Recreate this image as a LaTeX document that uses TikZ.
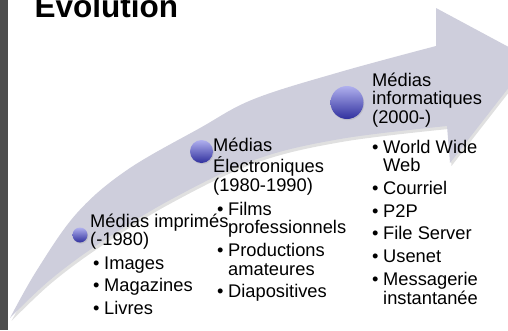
\documentclass[tikz,border=0pt]{standalone}
\usepackage{fontspec}
\setmainfont{Liberation Sans}
\usetikzlibrary{shadows}
\definecolor{barcol}{RGB}{77,77,77}
\definecolor{arrowcol}{RGB}{206,206,220}
\definecolor{balltop}{RGB}{176,176,238}
\definecolor{ballbot}{RGB}{48,48,158}
\newcommand{\bul}{\makebox[11pt][l]{•}}
\newcommand{\cont}{\hspace*{11pt}}
\tikzset{
  lbl/.style={anchor=base west, inner sep=0pt, font=\fontsize{18.3}{18.5}\selectfont},
  ballnode/.style={circle, inner sep=0pt, minimum size=#1, top color=balltop, bottom color=ballbot,
     drop shadow={opacity=0.2, shadow xshift=0.8pt, shadow yshift=-1.2pt}},
}
\begin{document}
\begin{tikzpicture}[x=1pt,y=-1pt]
\useasboundingbox (0,0) rectangle (508,330);
\clip (0,0) rectangle (508,330);
\fill[barcol] (0,0) rectangle (7.5,330);
% arrow shadow
\fill[black, opacity=0.12, shift={(1.5,3)}]
  plot[smooth, tension=0.6] coordinates {(10,318) (37,270) (77,213) (127,170) (200,128) (254,99) (340,72) (436,46)}
  -- (436,8) -- (531,59) -- (450,163)
  -- plot[smooth, tension=0.6] coordinates {(447,126) (340,139) (254,160) (170,200) (100,243) (50,280) (10,318)} -- cycle;
% arrow
\fill[arrowcol]
  plot[smooth, tension=0.6] coordinates {(10,318) (37,270) (77,213) (127,170) (200,128) (254,99) (340,72) (436,46)}
  -- (436,8) -- (531,59) -- (450,163)
  -- plot[smooth, tension=0.6] coordinates {(447,126) (340,139) (254,160) (170,200) (100,243) (50,280) (10,318)} -- cycle;
% title
\node[anchor=base west, inner sep=0pt, font=\fontsize{31.5}{32}\selectfont\bfseries] (title) at (34.4,17.3) {Evolution};
% balls
\node[ballnode=15pt] (b1) at (80,235) {};
\node[ballnode=23pt] (b2) at (201.5,151.5) {};
\node[ballnode=33pt] (b3) at (347,102.5) {};
% column 1
\node[lbl] (h1) at (90,227) {\begin{tabular}[t]{@{}l@{}}Médias imprimés\\(-1980)\end{tabular}};
\node[lbl] (l1) at (93,269.5) {\begin{tabular}[t]{@{}l@{}}\bul Images\\[3.5pt]\bul Magazines\\[3.5pt]\bul Livres\end{tabular}};
% column 2
\node[lbl] (h2) at (213,151.5) {\begin{tabular}[t]{@{}l@{}}Médias\\Électroniques\\(1980-1990)\end{tabular}};
\node[lbl] (l2) at (217,215) {\begin{tabular}[t]{@{}l@{}}\bul Films\\\cont professionnels\\[4pt]\bul Productions\\\cont amateures\\[4pt]\bul Diapositives\end{tabular}};
% column 3
\node[lbl] (h3) at (372,86) {\begin{tabular}[t]{@{}l@{}}Médias\\informatiques\\(2000-)\end{tabular}};
\node[lbl] (l3) at (372,153) {\begin{tabular}[t]{@{}l@{}}\bul World Wide\\\cont Web\\[4pt]\bul Courriel\\[4pt]\bul P2P\\[4pt]\bul File Server\\[4pt]\bul Usenet\\[4pt]\bul Messagerie\\\cont instantanée\end{tabular}};
\end{tikzpicture}
\end{document}
